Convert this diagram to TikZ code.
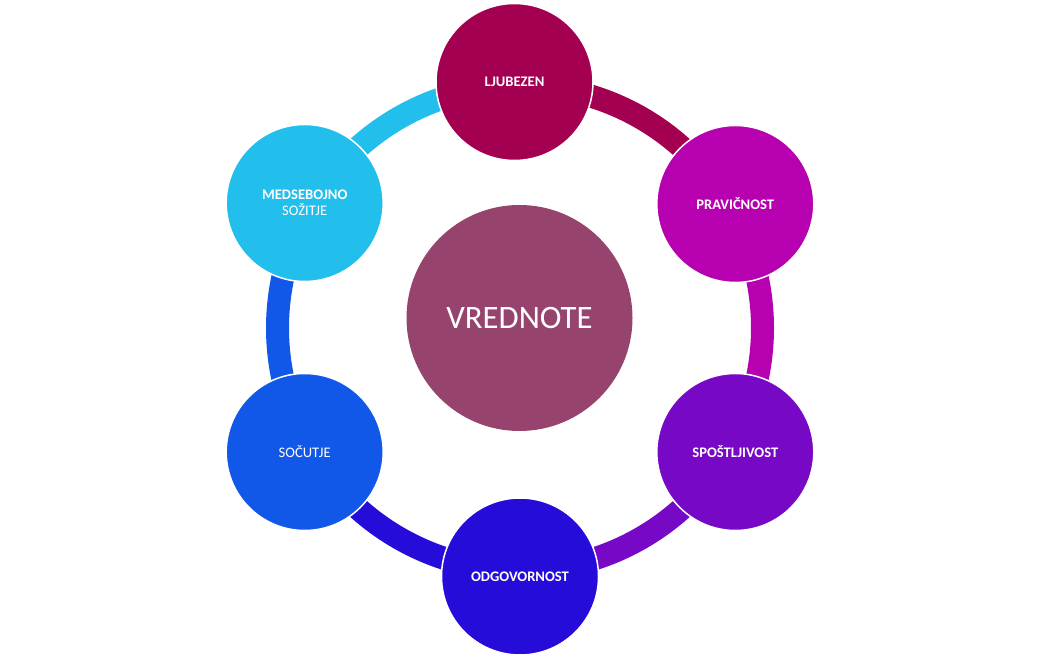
\documentclass[tikz,border=0pt]{standalone}
\usepackage{fontspec}
\setmainfont{Carlito}
\definecolor{cA}{RGB}{163,0,82}
\definecolor{cB}{RGB}{183,0,176}
\definecolor{cC}{RGB}{118,8,198}
\definecolor{cD}{RGB}{38,12,216}
\definecolor{cE}{RGB}{17,88,233}
\definecolor{cF}{RGB}{34,190,236}
\definecolor{cM}{RGB}{150,68,110}
\begin{document}
\begin{tikzpicture}[x=1pt,y=1pt]
\tikzset{
  bub/.style={circle, minimum size=157pt, inner sep=0pt, draw=white, line width=1.5pt,
    text=white, font=\bfseries\fontsize{14.6}{16}\selectfont, align=center},
  seg/.style={line width=23pt},
}
\useasboundingbox (0,0) rectangle (1041,658);
\coordinate (o) at (520,330);
% ring segments
\draw[seg,cA] ([shift={(90:242.5)}]o) arc[start angle=90, end angle=30, radius=242.5];
\draw[seg,cB] ([shift={(30:242.5)}]o) arc[start angle=30, end angle=-30, radius=242.5];
\draw[seg,cC] ([shift={(-30:242.5)}]o) arc[start angle=-30, end angle=-90, radius=242.5];
\draw[seg,cD] ([shift={(-90:242.5)}]o) arc[start angle=-90, end angle=-150, radius=242.5];
\draw[seg,cE] ([shift={(210:242.5)}]o) arc[start angle=210, end angle=150, radius=242.5];
\draw[seg,cF] ([shift={(150:242.5)}]o) arc[start angle=150, end angle=90, radius=242.5];
% nodes
\node[bub, fill=cA] (lj) at (514.5,576) {LJUBEZEN};
\node[bub, fill=cB] (pr) at (735.3,454) {PRAVIČNOST};
\node[bub, fill=cC] (sp) at (735.3,206) {SPOŠTLJIVOST};
\node[bub, fill=cD] (od) at (520,81.5) {ODGOVORNOST};
\node[bub, fill=cE, font=\fontsize{14.6}{16}\selectfont] (so) at (304.7,206) {SOČUTJE};
\node[bub, fill=cF] (me) at (304.7,455) {MEDSEBOJNO\\\mdseries SOŽITJE};
\node[circle, minimum size=226pt, inner sep=0pt, fill=cM, text=white,
  font=\fontsize{32.7}{36}\selectfont] (vr) at (519.5,340) {VREDNOTE};
\end{tikzpicture}
\end{document}
